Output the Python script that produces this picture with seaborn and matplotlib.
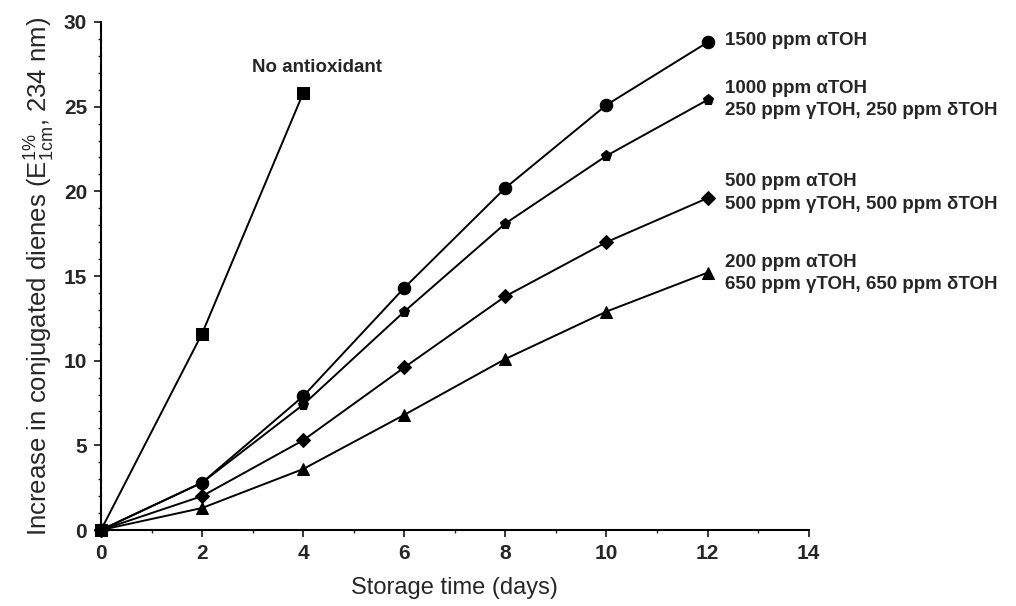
import numpy as np
import pandas as pd
import matplotlib
matplotlib.use("Agg")
import matplotlib.pyplot as plt
import seaborn as sns
from matplotlib.ticker import MultipleLocator

# ---- data ----
days_none = [0, 2, 4]
none_vals = [0, 11.6, 25.8]

days = [0, 2, 4, 6, 8, 10, 12]
a1500 = [0, 2.8, 7.9, 14.3, 20.2, 25.1, 28.8]
a1000 = [0, 2.8, 7.4, 12.9, 18.1, 22.1, 25.4]
a500 = [0, 2.0, 5.3, 9.6, 13.8, 17.0, 19.6]
a200 = [0, 1.3, 3.6, 6.8, 10.1, 12.9, 15.2]

series_names = ["none", "a1500", "a1000", "a500", "a200"]
label_lines = {
    "a1500": ["1500 ppm \u03b1TOH"],
    "a1000": ["1000 ppm \u03b1TOH", "250 ppm \u03b3TOH, 250 ppm \u03b4TOH"],
    "a500": ["500 ppm \u03b1TOH", "500 ppm \u03b3TOH, 500 ppm \u03b4TOH"],
    "a200": ["200 ppm \u03b1TOH", "650 ppm \u03b3TOH, 650 ppm \u03b4TOH"],
}
label_y = {"a1500": [28.9], "a1000": [26.1, 24.8], "a500": [20.6, 19.2], "a200": [15.8, 14.5]}

frames = [pd.DataFrame({"day": days_none, "value": none_vals, "series": "none"})]
for name, vals in [("a1500", a1500), ("a1000", a1000), ("a500", a500), ("a200", a200)]:
    frames.append(pd.DataFrame({"day": days, "value": vals, "series": name}))
df = pd.concat(frames, ignore_index=True)

sns.set_style("ticks")
plt.rcParams["font.family"] = ["Liberation Sans", "DejaVu Sans"]
plt.rcParams["mathtext.default"] = "regular"

fig = plt.figure(figsize=(10.16, 6.06), dpi=100)
ax = fig.add_axes([0.0994, 0.1254, 0.6965, 0.8383])

markers = {"none": "s", "a1500": "o", "a1000": "p", "a500": "D", "a200": "^"}
sizes = {"none": 9, "a1500": 9, "a1000": 8, "a500": 7, "a200": 8}
for name in series_names:
    sub = df[df.series == name]
    sns.lineplot(data=sub, x="day", y="value", ax=ax, color="black", lw=1.4,
                 marker=markers[name], markersize=sizes[name], markeredgecolor="black",
                 markerfacecolor="black", legend=False, clip_on=False, zorder=3)

ax.set_xlim(0, 14)
ax.set_ylim(0, 30)
ax.xaxis.set_major_locator(MultipleLocator(2))
ax.xaxis.set_minor_locator(MultipleLocator(1))
ax.yaxis.set_major_locator(MultipleLocator(5))
ax.yaxis.set_minor_locator(MultipleLocator(1))
ax.tick_params(axis="both", which="major", length=5, width=1.3, direction="out",
               labelsize=15, pad=5)
ax.tick_params(axis="both", which="minor", length=2.5, width=1.0, direction="out")
for lab in ax.get_xticklabels() + ax.get_yticklabels():
    lab.set_fontweight("bold")
sns.despine(ax=ax)
for sp in ["left", "bottom"]:
    ax.spines[sp].set_linewidth(1.5)
    ax.spines[sp].set_color("black")

ax.set_xlabel("Storage time (days)", fontsize=17, labelpad=10)
ax.set_ylabel(r"Increase in conjugated dienes (E$^{1\%}_{1cm}$, 234 nm)", fontsize=18.5, labelpad=5)

ax.text(4.28, 27.3, "No antioxidant", ha="center", va="center", fontsize=13.5, fontweight="bold")
for name in ["a1500", "a1000", "a500", "a200"]:
    for line, yy in zip(label_lines[name], label_y[name]):
        ax.text(12.35, yy, line, ha="left", va="center", fontsize=13.5, fontweight="bold",
                clip_on=False)

fig.savefig("out.png", dpi=100)
